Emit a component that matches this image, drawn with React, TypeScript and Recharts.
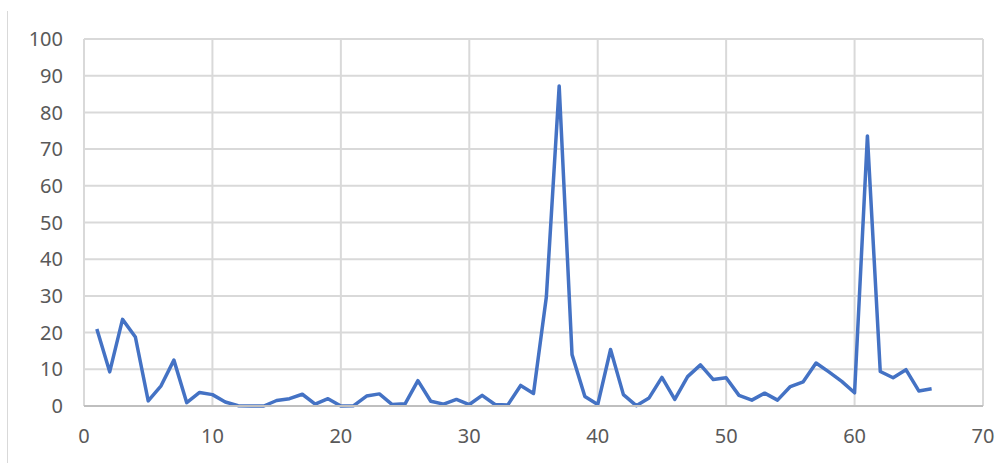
import React from "react";
import { LineChart, Line, XAxis, YAxis, CartesianGrid } from "recharts";

const BLUE = "#4472c4";
const GRID = "#d9d9d9";
const LABEL = "#595959";

const xValues = [
  1, 2, 3, 4, 5, 6, 7, 8, 9, 10, 11, 12, 13, 14, 15, 16, 17, 18, 19, 20, 21, 22,
  23, 24, 25, 26, 27, 28, 29, 30, 31, 32, 33, 34, 35, 36, 37, 38, 39, 40, 41, 42,
  43, 44, 45, 46, 47, 48, 49, 50, 51, 52, 53, 54, 55, 56, 57, 58, 59, 60, 61, 62,
  63, 64, 65, 66,
];

const yValues = [
  21, 9.3, 23.6, 18.8, 1.4, 5.5, 12.5, 0.9, 3.7, 3.1, 1.1, 0.1, 0, 0, 1.5, 2.0,
  3.2, 0.5, 2.0, 0, 0.1, 2.7, 3.3, 0.4, 0.6, 6.9, 1.3, 0.5, 1.8, 0.4, 2.9, 0.4,
  0.3, 5.6, 3.4, 29.7, 87.2, 14.0, 2.6, 0.4, 15.4, 3.1, 0.1, 2.2, 7.8, 1.8, 8.0,
  11.2, 7.2, 7.7, 2.9, 1.6, 3.5, 1.6, 5.3, 6.6, 11.7, 9.3, 6.7, 3.6, 73.6, 9.4,
  7.7, 9.9, 4.1, 4.7,
];

const xTicks = [0, 10, 20, 30, 40, 50, 60, 70];
const yTicks = [0, 10, 20, 30, 40, 50, 60, 70, 80, 90, 100];

const data = xValues.map((x, i) => ({ x, y: yValues[i] }));

const tickStyle = { fontSize: 20, fill: LABEL, fontFamily: "'Noto Sans', sans-serif" };

export default function App() {
  return (
    <div style={{ position: "fixed", left: 0, top: 0, width: 997, height: 463, background: "#fff" }}>
      <div
        style={{
          position: "absolute",
          left: 7,
          top: 11,
          width: 1,
          height: 452,
          background: GRID,
        }}
      />
      <LineChart
        width={997}
        height={463}
        data={data}
        margin={{ top: 39, right: 14, left: 24, bottom: 17 }}
      >
        <CartesianGrid stroke={GRID} strokeWidth={2} />
        <XAxis
          dataKey="x"
          type="number"
          domain={[0, 70]}
          ticks={xTicks}
          tick={tickStyle}
          tickLine={false}
          axisLine={{ stroke: "#bfbfbf", strokeWidth: 2 }}
          tickMargin={17}
          height={40}
          interval={0}
        />
        <YAxis
          type="number"
          domain={[0, 100]}
          ticks={yTicks}
          tick={tickStyle}
          tickLine={false}
          axisLine={false}
          tickMargin={15}
          width={60}
          interval={0}
        />
        <Line
          dataKey="y"
          stroke={BLUE}
          strokeWidth={3.5}
          strokeLinejoin="round"
          dot={false}
          isAnimationActive={false}
        />
      </LineChart>
    </div>
  );
}
